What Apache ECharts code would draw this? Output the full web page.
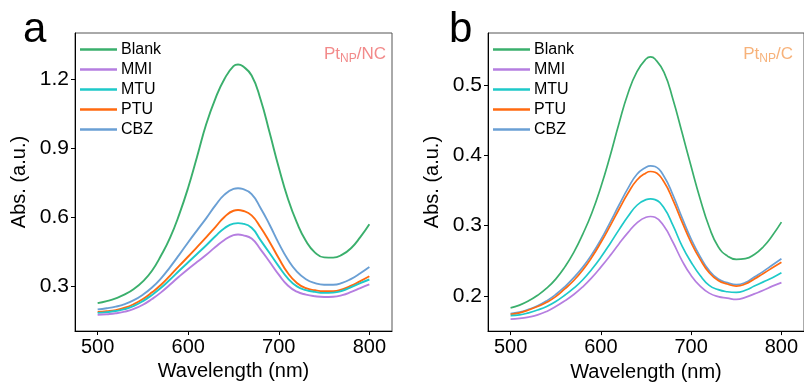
<!DOCTYPE html>
<html>
<head>
<meta charset="utf-8">
<script src="https://cdn.jsdelivr.net/npm/echarts@6/dist/echarts.min.js"></script>
<style>
html,body{margin:0;padding:0;background:#fff;}
#chart{width:804px;height:387px;}
</style>
</head>
<body>
<div id="chart"></div>
<script>
const wavelengths = [500,510,520,530,540,550,560,570,580,590,600,610,620,630,640,650,655,660,670,680,690,700,710,720,730,740,750,760,770,780,790,800];
const seriesNames = ['Blank','MMI','MTU','PTU','CBZ'];
const seriesColors = ['#3aaf6c','#b57ee0','#1ec9c9','#ff6a10','#6a9fd4'];

// Panel a: Pt_NP/NC
const ncBlank = [0.225,0.234,0.246,0.263,0.287,0.320,0.366,0.432,0.510,0.610,0.728,0.865,1.005,1.115,1.200,1.256,1.263,1.256,1.215,1.110,0.965,0.815,0.680,0.575,0.495,0.445,0.424,0.423,0.436,0.465,0.512,0.568];
const ncMMI   = [0.174,0.177,0.181,0.188,0.200,0.218,0.243,0.272,0.306,0.341,0.374,0.405,0.436,0.469,0.500,0.521,0.524,0.521,0.506,0.458,0.404,0.349,0.302,0.275,0.262,0.255,0.252,0.253,0.260,0.274,0.291,0.307];
const ncMTU   = [0.183,0.186,0.191,0.199,0.213,0.234,0.261,0.292,0.328,0.366,0.403,0.440,0.477,0.516,0.551,0.571,0.573,0.571,0.553,0.498,0.442,0.385,0.333,0.298,0.282,0.274,0.270,0.271,0.279,0.295,0.312,0.328];
const ncPTU   = [0.187,0.190,0.195,0.205,0.221,0.243,0.272,0.305,0.345,0.387,0.428,0.470,0.512,0.556,0.600,0.627,0.630,0.627,0.607,0.554,0.490,0.420,0.356,0.313,0.290,0.281,0.277,0.277,0.285,0.301,0.321,0.342];
const ncCBZ   = [0.198,0.203,0.210,0.221,0.238,0.262,0.293,0.333,0.382,0.435,0.490,0.543,0.595,0.650,0.697,0.722,0.725,0.722,0.699,0.638,0.565,0.485,0.415,0.362,0.329,0.312,0.305,0.305,0.313,0.331,0.355,0.382];

// Panel b: Pt_NP/C
const cBlank = [0.183,0.187,0.193,0.201,0.211,0.224,0.241,0.262,0.288,0.318,0.355,0.398,0.445,0.488,0.519,0.537,0.540,0.537,0.518,0.479,0.432,0.384,0.338,0.298,0.270,0.257,0.252,0.253,0.259,0.270,0.286,0.305];
const cMMI   = [0.167,0.168,0.170,0.173,0.178,0.185,0.193,0.202,0.213,0.226,0.241,0.257,0.274,0.290,0.304,0.312,0.313,0.312,0.299,0.276,0.250,0.229,0.214,0.204,0.199,0.197,0.195,0.198,0.203,0.208,0.214,0.219];
const cMTU   = [0.172,0.173,0.176,0.180,0.185,0.192,0.201,0.211,0.223,0.238,0.255,0.274,0.294,0.313,0.329,0.337,0.338,0.337,0.325,0.300,0.271,0.248,0.229,0.215,0.209,0.206,0.205,0.208,0.214,0.220,0.226,0.233];
const cPTU   = [0.174,0.176,0.180,0.185,0.191,0.199,0.210,0.222,0.237,0.255,0.276,0.299,0.323,0.346,0.365,0.375,0.377,0.376,0.362,0.336,0.305,0.276,0.252,0.233,0.222,0.217,0.214,0.217,0.224,0.232,0.240,0.248];
const cCBZ   = [0.175,0.177,0.181,0.186,0.193,0.202,0.213,0.226,0.241,0.259,0.280,0.304,0.329,0.353,0.373,0.383,0.385,0.384,0.370,0.343,0.311,0.281,0.256,0.236,0.224,0.219,0.216,0.219,0.227,0.235,0.244,0.253];

const xTicks = [500,600,700,800];
const yTicksA = [0.3,0.6,0.9,1.2];
const yTicksB = [0.2,0.3,0.4,0.5];

const FONT = 'Arial, "Liberation Sans", sans-serif';
const panelA = [ncBlank, ncMMI, ncMTU, ncPTU, ncCBZ];
const panelB = [cBlank, cMMI, cMTU, cPTU, cCBZ];

function pairs(arr){ return wavelengths.map((w,i)=>[w,arr[i]]); }

const series = [];
[panelA, panelB].forEach((panel, pi) => {
  panel.forEach((arr, si) => {
    series.push({
      name: seriesNames[si], type: 'line', xAxisIndex: pi, yAxisIndex: pi,
      data: pairs(arr), smooth: 0.5, showSymbol: false, symbol: 'none',
      lineStyle: {color: seriesColors[si], width: pi === 0 ? 1.9 : 1.7},
      itemStyle: {color: seriesColors[si]},
      z: 10 - si
    });
  });
});

function xAxis(gi){
  return {
    type: 'value', gridIndex: gi, min: 475, max: 825,
    name: 'Wavelength (nm)', nameLocation: 'middle', nameGap: 30,
    nameTextStyle: {fontSize: 20, color: '#000', fontFamily: FONT},
    axisLine: {show: true, lineStyle: {color: '#000', width: 1}},
    axisTick: {show: true, inside: false, length: 4, customValues: xTicks, lineStyle: {color: '#000'}},
    axisLabel: {fontSize: 20, color: '#000', fontFamily: FONT, margin: 6, customValues: xTicks},
    splitLine: {show: false}
  };
}
function yAxis(gi, min, max, ticks){
  return {
    type: 'value', gridIndex: gi, min: min, max: max,
    name: 'Abs. (a.u.)', nameLocation: 'middle', nameGap: 46,
    nameTextStyle: {fontSize: 20, color: '#000', fontFamily: FONT},
    axisLine: {show: true, lineStyle: {color: '#000', width: 1}},
    axisTick: {show: true, inside: false, length: 4, customValues: ticks, lineStyle: {color: '#000'}},
    axisLabel: {fontSize: 21, color: '#000', fontFamily: FONT, margin: 6, customValues: ticks,
      formatter: v => v.toFixed(1)},
    splitLine: {show: false}
  };
}

function legend(left){
  return {
    orient: 'vertical', left: left, top: 41, padding: 0, itemWidth: 37, itemHeight: 2.5, itemGap: 3,
    icon: 'rect', data: seriesNames,
    textStyle: {fontSize: 16, color: '#000', fontFamily: FONT, padding: [0,0,0,-1], lineHeight: 17},
    selectedMode: false
  };
}

function ptLabel(color){
  return {
    m: {fontSize: 17, color: color, fontFamily: FONT, fontWeight: 'normal'},
    s: {fontSize: 12, color: color, fontFamily: FONT, fontWeight: 'normal', padding: [10,0,0,0]}
  };
}

const chart = echarts.init(document.getElementById('chart'), null, {renderer: 'canvas'});
chart.setOption({
  backgroundColor: '#fff',
  animation: false,
  title: [
    {text: 'a', left: 18, top: 4, textStyle: {fontSize: 42, fontWeight: 'normal', color: '#000', fontFamily: FONT}},
    {text: 'b', left: 444, top: 4, textStyle: {fontSize: 42, fontWeight: 'normal', color: '#000', fontFamily: FONT}},
    {text: '{m|Pt}{s|NP}{m|/NC}', right: 413, top: 38,
      textStyle: {fontWeight: 'normal', rich: ptLabel('#f28a8a')}},
    {text: '{m|Pt}{s|NP}{m|/C}', right: 6, top: 38,
      textStyle: {fontWeight: 'normal', rich: ptLabel('#f7b27a')}}
  ],
  legend: [legend(80), legend(493)],
  grid: [
    {left: 75, top: 33, width: 317, height: 298, show: true, borderColor: '#555', borderWidth: 1, backgroundColor: 'transparent'},
    {left: 488, top: 33, width: 317, height: 299, show: true, borderColor: '#555', borderWidth: 1, backgroundColor: 'transparent'}
  ],
  xAxis: [xAxis(0), xAxis(1)],
  yAxis: [yAxis(0, 0.104, 1.4, yTicksA), yAxis(1, 0.15, 0.574, yTicksB)],
  series: series
});
</script>
</body>
</html>
